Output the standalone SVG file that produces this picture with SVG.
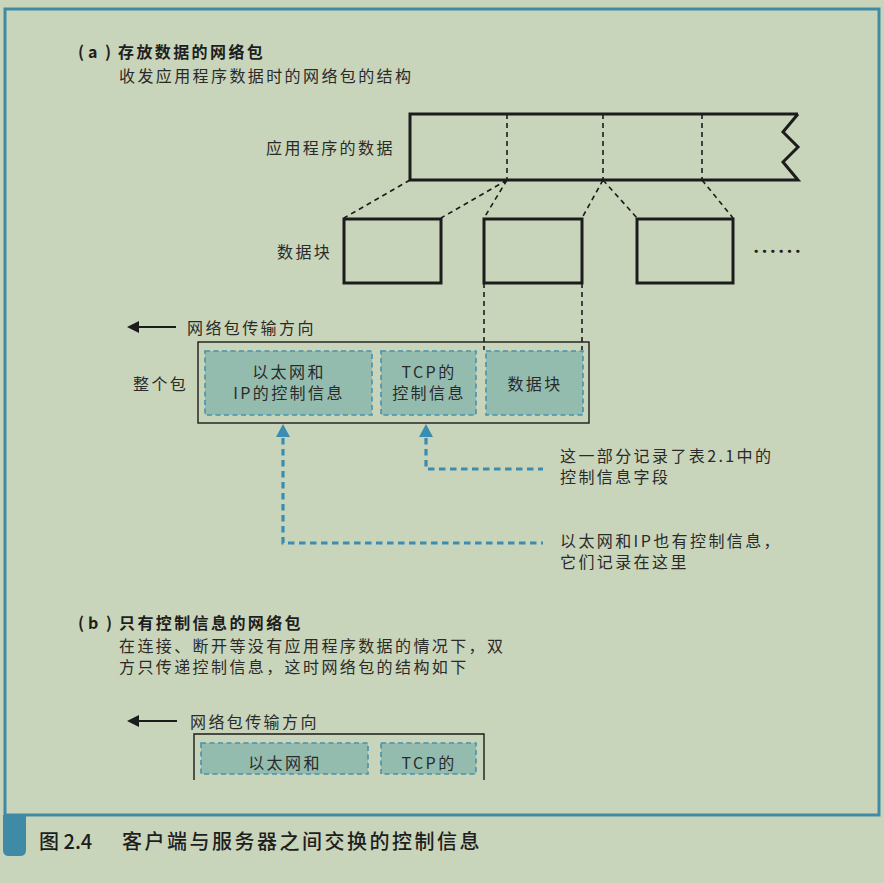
<svg xmlns="http://www.w3.org/2000/svg" width="884" height="883" viewBox="0 0 884 883">
<defs>
<style>
text{font-family:"Noto Sans CJK SC","Noto Sans",sans-serif;fill:#2a2a2a;dominant-baseline:central}
.t{font-size:16px;letter-spacing:2.4px}
.b{font-weight:bold;fill:#1e1e1e}
.m{text-anchor:middle}
.blk{fill:none;stroke:#1c1c1c;stroke-width:3}
.dsh{fill:none;stroke:#1c1c1c;stroke-width:1.6;stroke-dasharray:5 4}
.seg{fill:#93bcaf;stroke:#4592b0;stroke-width:1.6;stroke-dasharray:5 3.5}
.pk{fill:none;stroke:#1c1c1c;stroke-width:1.4}
.bl{fill:none;stroke:#3a8db0;stroke-width:3.2;stroke-dasharray:6.5 4.5}
</style>
</defs>
<rect width="884" height="883" fill="#c9d5ba"/>
<rect x="5" y="9" width="874" height="806" fill="none" stroke="#3f8ba6" stroke-width="3"/>
<path d="M3,815 H26 V850 Q26,856 20,856 H9 Q3,856 3,850 Z" fill="#3f8ba6"/>

<g id="title-a">
<text class="t" y="51"><tspan class="b" x="78">(</tspan><tspan class="b" x="88">a</tspan><tspan class="b" x="105">)</tspan><tspan class="b" x="118">存放数据的网络包</tspan><tspan x="119" y="75">收发应用程序数据时的网络包的结构</tspan></text>
</g>

<g id="appdata">
<text class="t" x="266" y="147">应用程序的数据</text>
<path class="blk" d="M798,114 H410 V180 H798 L783,162 L798,147 L783,132 L798,114"/>
<path class="dsh" d="M507,114 V180 M603,114 V180 M702,114 V180"/>
</g>

<g id="blocks">
<text class="t" x="277" y="251">数据块</text>
<rect class="blk" x="344" y="219" width="97" height="64"/>
<rect class="blk" x="484" y="219" width="98" height="64"/>
<rect class="blk" x="637" y="219" width="96" height="64"/>
<text x="752" y="250" style="font-size:25px;fill:#1c1c1c">……</text>
</g>

<g id="connectors">
<path class="dsh" d="M410,180 L344,218 M507,180 L441,218 M507,180 L484,218 M603,180 L582,218 M603,180 L637,218 M702,180 L733,218"/>
<path class="dsh" d="M484,283 V350 M582,283 V350"/>
<path class="bl" d="M283,438 V543 H543"/>
<path class="bl" d="M426,438 V469 H543"/>
<polygon points="283,424 276,437 290,437" fill="#3a8db0"/>
<polygon points="426,424 419,437 433,437" fill="#3a8db0"/>
<line x1="137" y1="327" x2="176" y2="327" stroke="#1c1c1c" stroke-width="2"/>
<polygon points="127,327 139,321 139,333" fill="#1c1c1c"/>
<line x1="137" y1="721" x2="177" y2="721" stroke="#1c1c1c" stroke-width="2"/>
<polygon points="127,721 139,715 139,727" fill="#1c1c1c"/>
</g>

<g id="packet-a">
<text class="t" x="187" y="327">网络包传输方向</text>
<text class="t" x="133" y="383">整个包</text>
<rect class="pk" x="198" y="342" width="391" height="81"/>
<rect class="seg" x="205" y="351" width="167" height="64"/>
<rect class="seg" x="381" y="351" width="95" height="64"/>
<rect class="seg" x="486" y="351" width="97" height="64"/>
<text class="t m"><tspan x="289" y="371">以太网和</tspan><tspan x="289" y="392">IP的控制信息</tspan></text>
<text class="t m"><tspan x="429" y="371">TCP的</tspan><tspan x="429" y="392">控制信息</tspan></text>
<text class="t m" x="535" y="383">数据块</text>
</g>

<g id="notes">
<text class="t"><tspan x="560" y="455">这一部分记录了表2.1中的</tspan><tspan x="560" y="476">控制信息字段</tspan></text>
<text class="t"><tspan x="560" y="540">以太网和IP也有控制信息，</tspan><tspan x="560" y="561">它们记录在这里</tspan></text>
</g>

<g id="title-b">
<text class="t"><tspan class="b" x="78" y="622">(</tspan><tspan class="b" x="88">b</tspan><tspan class="b" x="106">)</tspan><tspan class="b" x="119">只有控制信息的网络包</tspan><tspan x="119" y="645">在连接、断开等没有应用程序数据的情况下，双</tspan><tspan x="119" y="666">方只传递控制信息，这时网络包的结构如下</tspan></text>
</g>

<g id="packet-b">
<text class="t" x="190" y="721">网络包传输方向</text>
<path class="pk" d="M194,780 V734 H484 V780"/>
<rect class="seg" x="201" y="743" width="167" height="31"/>
<rect class="seg" x="381" y="743" width="95" height="31"/>
<text class="t m" x="285" y="762">以太网和</text>
<text class="t m" x="429" y="762">TCP的</text>
</g>

<g id="caption">
<text x="39" y="840" style="font-size:20px;font-weight:500;fill:#1e1e1e">图 2.4</text>
<text x="122" y="840" style="font-size:20px;font-weight:500;letter-spacing:2.5px;fill:#1e1e1e">客户端与服务器之间交换的控制信息</text>
</g>
</svg>
